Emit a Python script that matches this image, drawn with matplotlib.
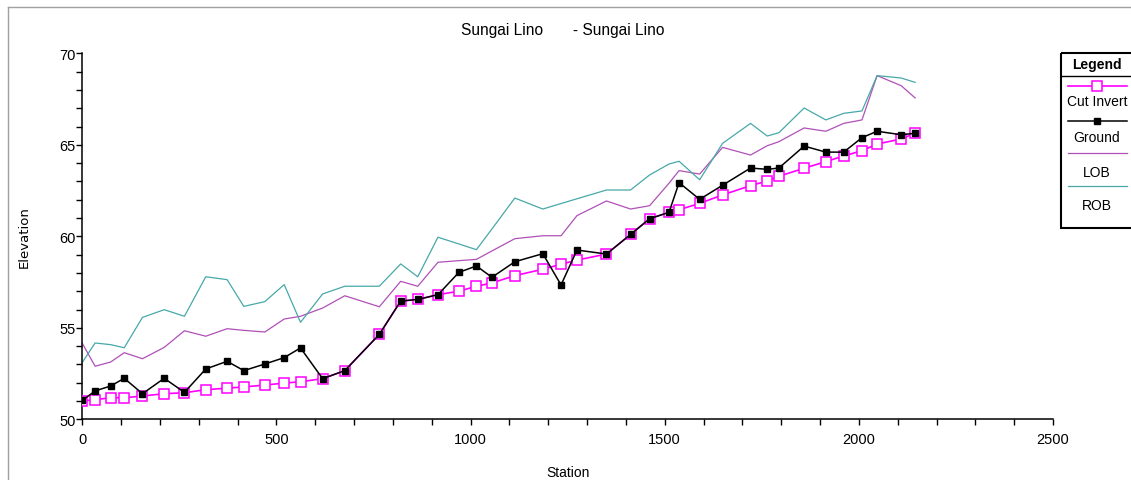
import matplotlib
matplotlib.use("Agg")
import matplotlib.pyplot as plt
from matplotlib import font_manager
from matplotlib.lines import Line2D
from matplotlib.patches import Rectangle
from matplotlib.ticker import MultipleLocator

# ---------------- data ----------------
station = [0, 33, 73, 108, 155, 211, 263, 318, 373, 416, 470, 520, 562, 619, 676,
           765, 820, 864, 916, 970, 1015, 1055, 1114, 1186, 1233, 1274, 1350, 1412,
           1461, 1511, 1537, 1590, 1649, 1721, 1764, 1794, 1859, 1915, 1961, 2008,
           2047, 2109, 2145]
cut_invert = [51.0, 51.07, 51.18, 51.18, 51.27, 51.4, 51.45, 51.62, 51.7, 51.77, 51.87,
              51.98, 52.05, 52.22, 52.66, 54.64, 56.46, 56.55, 56.81, 57.0,
              57.27, 57.45, 57.85, 58.2, 58.47, 58.7, 59.03, 60.1, 60.96,
              61.31, 61.45, 61.8, 62.26, 62.77, 63.02, 63.28, 63.72, 64.08, 64.39,
              64.68, 65.04, 65.32, 65.63]
ground = [51.03, 51.55, 51.82, 52.24, 51.4, 52.24, 51.47, 52.75, 53.17, 52.66, 53.02,
          53.37, 53.9, 52.22, 52.66, 54.64, 56.46, 56.55, 56.81, 58.03,
          58.38, 57.76, 58.61, 59.05, 57.34, 59.25, 59.03, 60.1, 60.96,
          61.31, 62.93, 62.02, 62.79, 63.73, 63.66, 63.73, 64.93, 64.6, 64.6,
          65.39, 65.74, 65.55, 65.63]
lob = [54.15, 52.9, 53.13, 53.64, 53.31, 53.93, 54.84, 54.54, 54.95, 54.86, 54.77,
       55.48, 55.63, 56.08, 56.75, 56.15, 57.54, 57.27, 58.58, 58.67,
       58.74, 59.2, 59.87, 60.03, 60.03, 61.13, 61.93, 61.49, 61.67,
       62.9, 63.59, 63.4, 64.86, 64.44, 64.95, 65.17, 65.92, 65.74, 66.17,
       66.36, 68.78, 68.23, 67.56]
rob = [53.11, 54.17, 54.08, 53.91, 55.57, 55.99, 55.63, 57.79, 57.63, 56.17, 56.43,
       57.36, 55.3, 56.85, 57.27, 57.27, 58.49, 57.79, 59.95, 59.58,
       59.27, 60.4, 62.09, 61.49, 61.79, 62.05, 62.53, 62.53, 63.35,
       63.95, 64.1, 63.09, 65.08, 66.17, 65.48, 65.66, 67.01, 66.36, 66.72,
       66.85, 68.78, 68.65, 68.41]
legend_labels = ["Cut Invert", "Ground", "LOB", "ROB"]
title_text = "Sungai Lino       - Sungai Lino"

# ---------------- style ----------------
names = {f.name for f in font_manager.fontManager.ttflist}
narrow = "Liberation Sans Narrow" if "Liberation Sans Narrow" in names else "Liberation Sans"
plt.rcParams["font.family"] = [narrow, "DejaVu Sans"]

C_CUT = "#ff00ff"
C_GRD = "#000000"
C_LOB = "#b050b8"
C_ROB = "#48a8a8"

W, H = 1131, 481
fig = plt.figure(figsize=(W / 100, H / 100), dpi=100)

def fx(px):
    return px / W

def fy(py):
    return 1 - py / H

ax = fig.add_axes([fx(82.3), fy(420.3), fx(1053) - fx(82.3), fy(54.3) - fy(420.3)])

ax.plot(station, lob, color=C_LOB, lw=0.9, zorder=2)
ax.plot(station, rob, color=C_ROB, lw=0.9, zorder=2)
ax.plot(station, cut_invert, color=C_CUT, lw=1.2, marker="s", ms=6.5,
        mfc="white", mec=C_CUT, mew=1.1, zorder=3)
ax.plot(station, ground, color=C_GRD, lw=1.1, marker="s", ms=5,
        mfc=C_GRD, mec=C_GRD, zorder=4)

ax.set_xlim(0, 2500)
ax.set_ylim(50, 70)
ax.xaxis.set_major_locator(MultipleLocator(500))
ax.xaxis.set_minor_locator(MultipleLocator(100))
ax.yaxis.set_major_locator(MultipleLocator(5))
ax.yaxis.set_minor_locator(MultipleLocator(1))
for s in ["top", "right"]:
    ax.spines[s].set_visible(False)
for s in ["left", "bottom"]:
    ax.spines[s].set_linewidth(1.1)
ax.tick_params(which="both", direction="out", width=1.0, labelsize=10.5)
ax.tick_params(which="major", length=4)
ax.tick_params(which="minor", length=4)
ax.tick_params(axis="x", which="major", pad=5)
ax.tick_params(axis="y", which="major", pad=1)
ax.set_xlabel("Station", fontsize=10, labelpad=14)
ax.set_ylabel("Elevation", fontsize=9.5, labelpad=20, family=["DejaVu Sans"])

fig.text(fx(562.5), fy(31), title_text, ha="center", va="center", fontsize=11.2)

# frame lines of the figure
fig.add_artist(Line2D([fx(8), 1], [fy(8), fy(8)], color="#a0a0a0", lw=1.0))
fig.add_artist(Line2D([fx(8), fx(8)], [fy(8), 0], color="#a0a0a0", lw=1.0))

# ---------------- legend box ----------------
L, T, B = 1060, 53.3, 230
lax = fig.add_axes([fx(L), fy(B), fx(1131) - fx(L), fy(T) - fy(B)])
lax.set_xlim(L, 1131)
lax.set_ylim(B, T)
lax.axis("off")
lax.add_patch(Rectangle((L + 0.8, T + 0.8), 200, B - T - 1.6, fill=False,
                        ec="black", lw=1.5, clip_on=False))
lax.plot([L, 1131], [76.7, 76.7], color="black", lw=1.0)
lax.text(1096.7, 65, "Legend", ha="center", va="center", fontsize=10, weight="bold")
xs = [1067.7, 1127]
mid = 1097
styles = [
    dict(color=C_CUT, lw=1.2, marker="s", ms=6.5, mfc="white", mec=C_CUT, mew=1.1),
    dict(color=C_GRD, lw=1.1, marker="s", ms=5, mfc=C_GRD, mec=C_GRD),
    dict(color=C_LOB, lw=0.9),
    dict(color=C_ROB, lw=0.9),
]
line_y = [86.7, 121.7, 154.3, 187.3]
text_y = [102.3, 138.3, 173.3, 205.7]
for lab, st, ly, ty in zip(legend_labels, styles, line_y, text_y):
    lax.plot(xs, [ly, ly], color=st["color"], lw=st["lw"])
    if "marker" in st:
        lax.plot([mid], [ly], linestyle="none", marker=st["marker"], ms=st["ms"],
                 mfc=st["mfc"], mec=st["mec"], mew=st.get("mew", 1.0))
    lax.text(mid, ty, lab, ha="center", va="center", fontsize=10)

fig.savefig("out.png", dpi=100)
